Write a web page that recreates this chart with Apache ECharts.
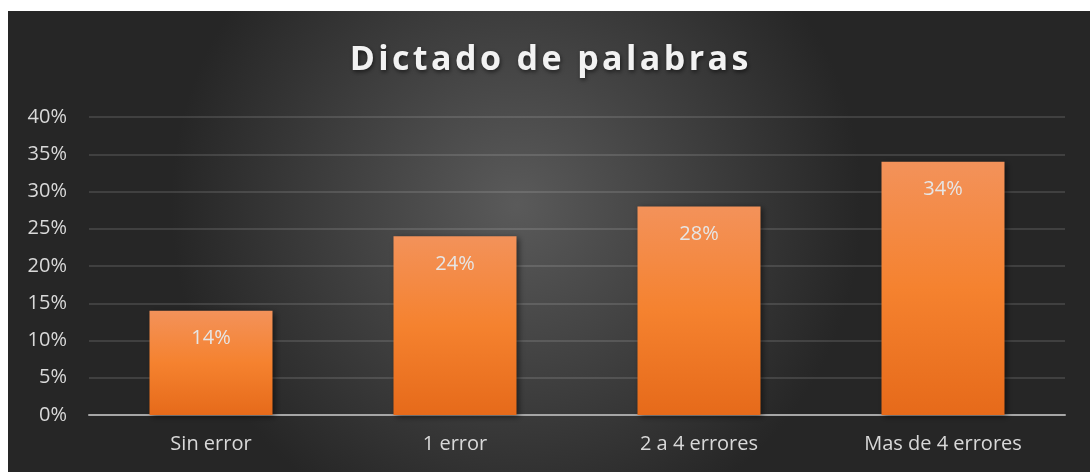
<!DOCTYPE html>
<html><head><meta charset="utf-8">
<script src="https://cdn.jsdelivr.net/npm/echarts@6/dist/echarts.min.js"></script>
<style>
html,body{margin:0;padding:0;background:#fff;width:1090px;height:472px;overflow:hidden;}
#c{position:absolute;left:8px;top:11px;width:1082px;height:461px;}
</style></head><body>
<div id="c"></div>
<script>
const title = 'Dictado de palabras';
const categories = ['Sin error', '1 error', '2 a 4 errores', 'Mas de 4 errores'];
const values = [14, 24, 28, 34];
const yTicks = [0, 5, 10, 15, 20, 25, 30, 35, 40];

const titleStyle = {
  color: '#f2f2f2', fontSize: 34, fontWeight: 'bold', fontFamily: 'Open Sans',
  padding: [0, 1.7, 0, 1.7],
  textShadowColor: 'rgba(0,0,0,0.55)', textShadowBlur: 4, textShadowOffsetX: 1, textShadowOffsetY: 2
};
const spacedTitle = title.split('').map(c => '{t|' + c + '}').join('');

const chart = echarts.init(document.getElementById('c'));
chart.setOption({
  backgroundColor: {
    type: 'radial', x: 0.47, y: 0.42, r: 0.75,
    colorStops: [{offset: 0, color: '#5a5a5a'}, {offset: 1, color: '#262626'}]
  },
  title: {
    text: spacedTitle, left: 'center', top: 27,
    textStyle: {rich: {t: titleStyle}, fontSize: 34}
  },
  grid: {left: 81, right: 25, top: 106, bottom: 57},
  xAxis: {
    type: 'category', data: categories,
    axisLine: {lineStyle: {color: '#a6a6a6', width: 2}},
    axisTick: {show: false},
    axisLabel: {color: '#d9d9d9', fontSize: 20, fontFamily: 'Open Sans', margin: 19}
  },
  yAxis: {
    type: 'value', min: yTicks[0], max: yTicks[yTicks.length - 1], interval: 5,
    axisLine: {show: false}, axisTick: {show: false},
    axisLabel: {color: '#d9d9d9', fontSize: 20, fontFamily: 'Open Sans', margin: 22, formatter: '{value}%'},
    splitLine: {lineStyle: {color: 'rgba(255,255,255,0.12)', width: 2}}
  },
  series: [{
    type: 'bar', data: values, barWidth: 123,
    itemStyle: {
      color: {type: 'linear', x: 0, y: 0, x2: 0, y2: 1,
        colorStops: [{offset: 0, color: '#f3925a'}, {offset: 0.5, color: '#f5822f'}, {offset: 1, color: '#e66a1a'}]},
      shadowColor: 'rgba(0,0,0,0.5)', shadowBlur: 6, shadowOffsetX: 2, shadowOffsetY: 2
    },
    label: {
      show: true, position: 'insideTop', distance: 18, formatter: '{c}%',
      color: '#e6e6e6', fontSize: 20, fontFamily: 'Open Sans'
    }
  }]
});
</script>
</body></html>
